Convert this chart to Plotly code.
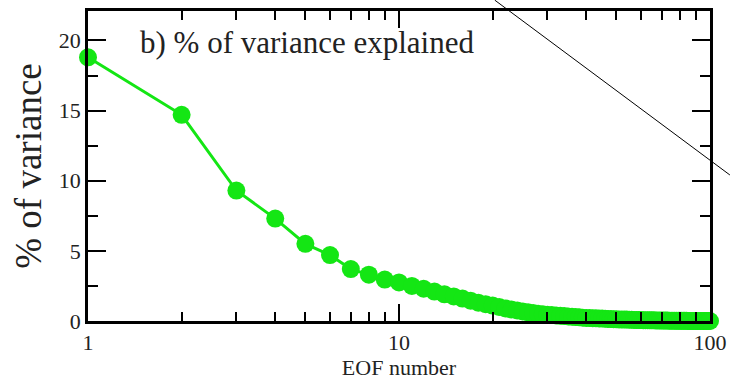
import plotly.graph_objects as go

eof_number = list(range(1, 101))
variance_pct = [
    18.8, 14.7, 9.3, 7.3, 5.5, 4.7, 3.7, 3.3, 2.95, 2.75,
    2.5, 2.3, 2.1, 1.9, 1.75, 1.6, 1.45, 1.3, 1.2, 1.1,
    1.0, 0.9, 0.82, 0.75, 0.68, 0.62, 0.57, 0.52, 0.48, 0.45,
    0.42, 0.4, 0.37, 0.35, 0.32, 0.3, 0.28, 0.26, 0.24, 0.22,
    0.21, 0.2, 0.19, 0.18, 0.17, 0.16, 0.15, 0.14, 0.13, 0.12,
    0.11, 0.11, 0.1, 0.1, 0.09, 0.09, 0.08, 0.08, 0.07, 0.07,
    0.06, 0.06, 0.06, 0.05, 0.05, 0.05, 0.04, 0.04, 0.04, 0.03,
    0.03, 0.03, 0.03, 0.02, 0.02, 0.02, 0.02, 0.02, 0.01, 0.01,
    0.01, 0.01, 0.01, 0.01, 0.0, 0.0, 0.0, 0.0, 0.0, 0.0,
    0.0, 0.0, 0.0, 0.0, 0.0, 0.0, 0.0, 0.0, 0.0, 0.0,
]

x_major = [1, 10, 100]
x_major_labels = ["1", "10", "100"]
x_minor = [2, 3, 4, 5, 6, 7, 8, 9, 20, 30, 40, 50, 60, 70, 80, 90]
y_major = [0, 5, 10, 15, 20]

GREEN = "#14e614"
FONT = "'Liberation Serif', 'Times New Roman', serif"

fig = go.Figure()
fig.add_trace(go.Scatter(
    x=eof_number, y=variance_pct, mode="lines+markers",
    line=dict(color=GREEN, width=3),
    marker=dict(color=GREEN, size=18),
    cliponaxis=False, showlegend=False,
))

fig.update_xaxes(
    type="log", range=[0, 2], automargin=False,
    tickvals=x_major, ticktext=x_major_labels,
    ticks="inside", ticklen=17, tickwidth=1.5, tickcolor="black",
    minor=dict(tickvals=x_minor, ticks="inside", ticklen=9, tickwidth=1.5, tickcolor="black"),
    showline=True, linecolor="black", linewidth=2.5, mirror="ticks",
    showgrid=False, zeroline=False,
    tickfont=dict(family=FONT, size=22, color="#222"),
    title=dict(text="EOF number", font=dict(family=FONT, size=22, color="#222"), standoff=6),
)
fig.update_yaxes(
    range=[0, 22.1], automargin=False,
    tickvals=y_major,
    ticks="inside", ticklen=18, tickwidth=1.5, tickcolor="black",
    minor=dict(dtick=2.5, ticks="inside", ticklen=10, tickwidth=1.5, tickcolor="black"),
    showline=True, linecolor="black", linewidth=2.5, mirror="ticks",
    showgrid=False, zeroline=False,
    tickfont=dict(family=FONT, size=22, color="#222"),
    title=dict(text="% of variance", font=dict(family=FONT, size=37, color="#222"), standoff=6),
)

fig.add_annotation(
    text="b) % of variance explained", xref="paper", yref="paper",
    x=0.080, y=0.897, xanchor="left", yanchor="middle", showarrow=False,
    font=dict(family=FONT, size=31, color="#222"),
)

fig.add_shape(
    type="line", xref="paper", yref="paper",
    x0=0.654, y0=1.035, x1=1.032, y1=0.471,
    line=dict(color="black", width=1),
)

fig.update_layout(
    width=730, height=380,
    margin=dict(l=88, r=20, t=11, b=59),
    paper_bgcolor="white", plot_bgcolor="white",
)

fig.write_html("out.html")
